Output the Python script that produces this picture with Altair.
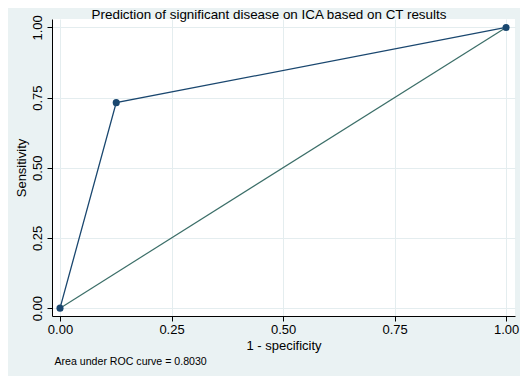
import altair as alt
import pandas as pd

# ROC points (1 - specificity, sensitivity)
fpr = [0.0, 0.126, 1.0]
tpr = [0.0, 0.732, 1.0]
ref_x = [0.0, 1.0]
ref_y = [0.0, 1.0]
ticks = [0.0, 0.25, 0.5, 0.75, 1.0]
title_text = "Prediction of significant disease on ICA based on CT results"
note_text = "Area under ROC curve = 0.8030"

roc = pd.DataFrame({"x": fpr, "y": tpr, "order": list(range(len(fpr)))})
ref = pd.DataFrame({"x": ref_x, "y": ref_y})

W, H = 463, 297
font = "Liberation Sans"

xscale = alt.Scale(domain=[-0.018, 1.02], nice=False, zero=False)
yscale = alt.Scale(domain=[-0.028, 1.03], nice=False, zero=False)

xaxis = alt.Axis(values=ticks, format=".2f", title="1 - specificity",
                 labelFontSize=13, titleFontSize=13, titleFontWeight="normal",
                 labelFont=font, titleFont=font, labelColor="black", titleColor="black",
                 domainColor="black", tickColor="black", tickSize=5, labelPadding=2,
                 titlePadding=3, gridColor="#e4edef", labelFlush=False)
yaxis = alt.Axis(values=ticks, format=".2f", title="Sensitivity",
                 labelFontSize=13, titleFontSize=13, titleFontWeight="normal",
                 labelFont=font, titleFont=font, labelColor="black", titleColor="black",
                 domainColor="black", tickColor="black", tickSize=5, labelPadding=3,
                 labelAngle=-90, labelAlign="center", labelBaseline="bottom",
                 titlePadding=3, gridColor="#e4edef", labelFlush=False)

ref_line = alt.Chart(ref).mark_line(color="#3b6e68", strokeWidth=1.2).encode(
    x=alt.X("x:Q", scale=xscale, axis=xaxis),
    y=alt.Y("y:Q", scale=yscale, axis=yaxis),
)

roc_line = alt.Chart(roc).mark_line(color="#1a476f", strokeWidth=1.3).encode(
    x=alt.X("x:Q", scale=xscale),
    y=alt.Y("y:Q", scale=yscale),
    order="order:Q",
)

roc_pts = alt.Chart(roc).mark_circle(color="#1a476f", size=50, opacity=1).encode(
    x=alt.X("x:Q", scale=xscale),
    y=alt.Y("y:Q", scale=yscale),
)

title = alt.Chart(pd.DataFrame({"t": [title_text]})).mark_text(
    align="center", baseline="alphabetic", fontSize=13.4, font=font, color="black"
).encode(x=alt.value(W / 2 - 14.5), y=alt.value(-0.5), text="t:N")

note = alt.Chart(pd.DataFrame({"t": [note_text]})).mark_text(
    align="left", baseline="middle", fontSize=10.6, font=font, color="black"
).encode(x=alt.value(2.5), y=alt.value(H + 46), text="t:N")

chart = alt.layer(ref_line, roc_line, roc_pts, title, note).properties(
    width=W, height=H,
    autosize=alt.AutoSizeParams(type="none"),
    padding={"left": 44, "top": 11, "right": 5, "bottom": 60},
    background="#eaf2f3",
).configure_view(fill="white", stroke=None)

chart.save("out.html", embed_options={"renderer": "svg", "actions": False})
